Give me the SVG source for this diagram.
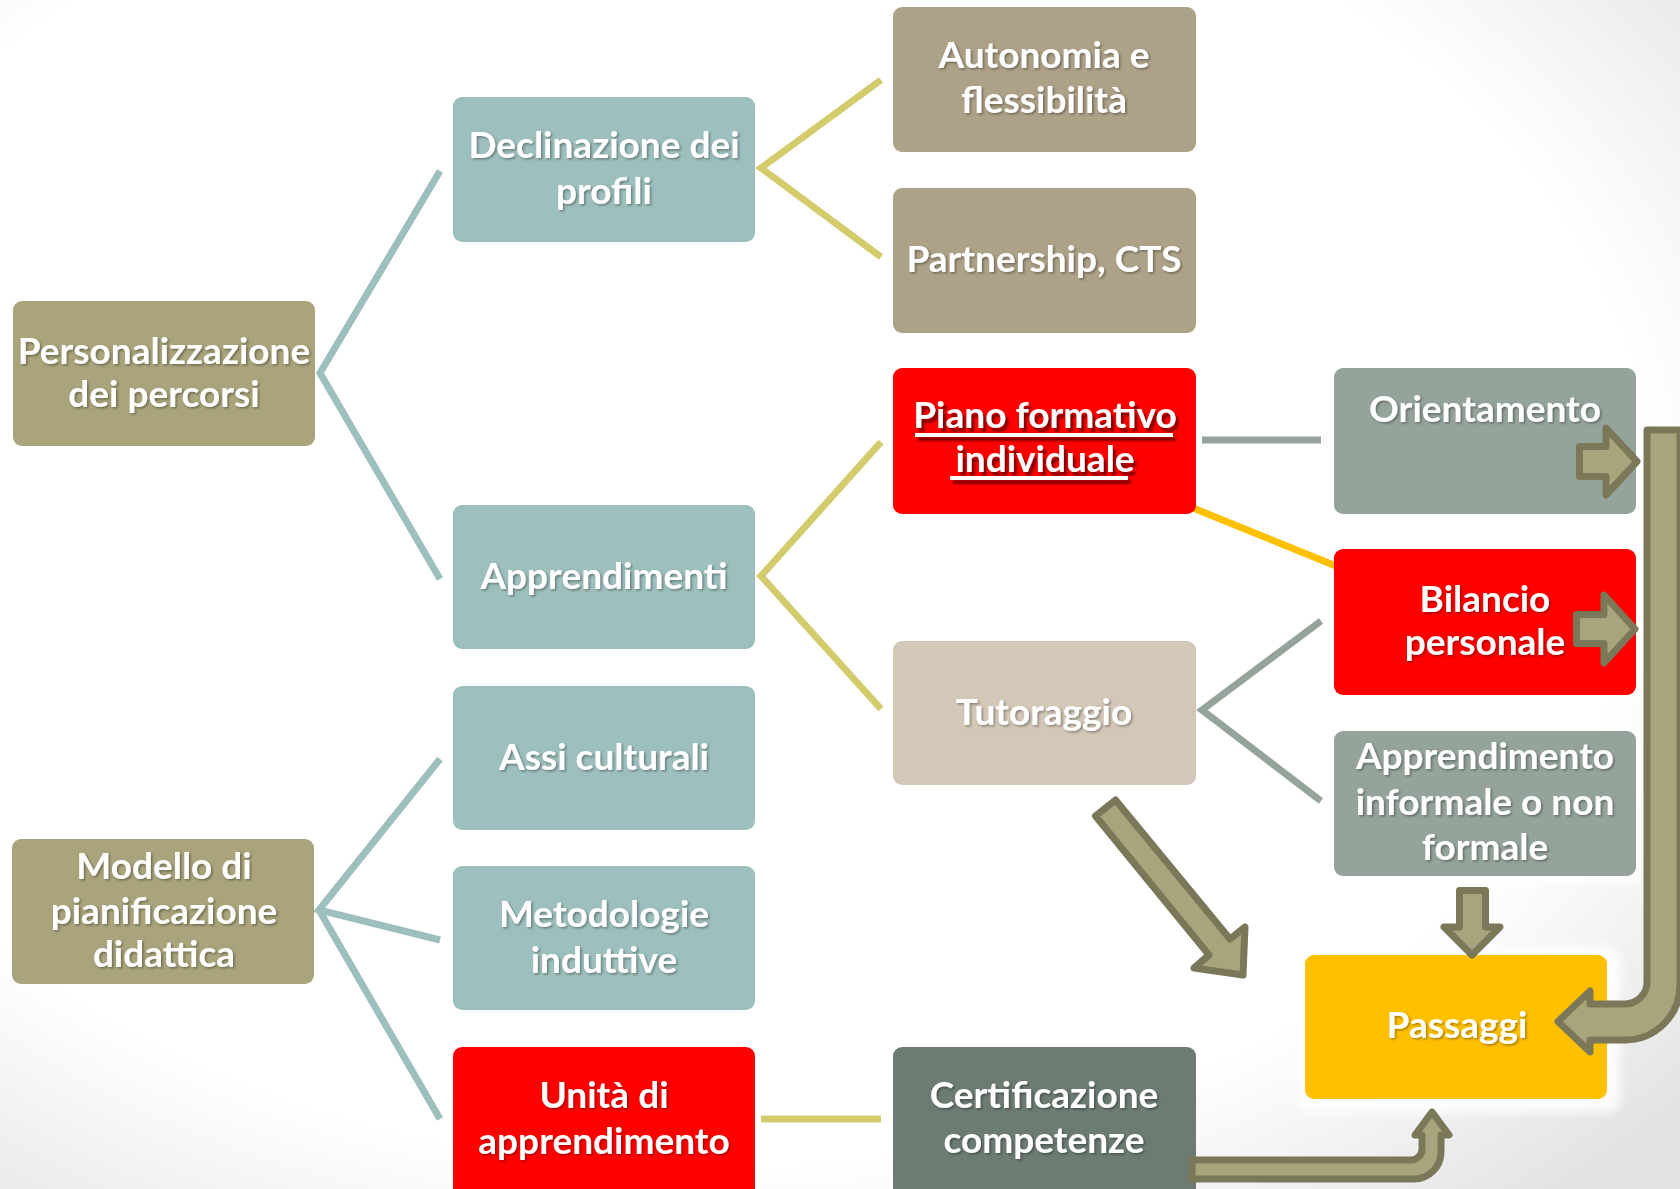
<svg xmlns="http://www.w3.org/2000/svg" width="1680" height="1189" viewBox="0 0 1680 1189">
<defs>
<radialGradient id="bg" cx="0.42" cy="0.42" r="0.78">
<stop offset="0.72" stop-color="#ffffff"/>
<stop offset="1" stop-color="#e2e2e2"/>
</radialGradient>
<filter id="ts" x="-10%" y="-30%" width="120%" height="160%">
<feDropShadow dx="1.5" dy="1.5" stdDeviation="1" flood-color="#000" flood-opacity="0.35"/>
</filter>
<filter id="ts2" x="-10%" y="-30%" width="120%" height="160%">
<feDropShadow dx="3" dy="4" stdDeviation="1.2" flood-color="#600" flood-opacity="0.8"/>
</filter>
<filter id="glow" x="-20%" y="-20%" width="140%" height="140%">
<feGaussianBlur stdDeviation="5"/>
</filter>
</defs>
<style>
.b text{fill:#fff;font-family:Lato,"Liberation Sans",sans-serif;font-weight:bold;font-size:37px;text-anchor:middle}
.t{filter:url(#ts)}
.olive{fill:#A9A47B}
.teal{fill:#9DBFBD}
.tan{fill:#ADA187}
.red{fill:#FF0000}
.gray{fill:#95A49B}
.beige{fill:#D3C7B7}
.dark{fill:#6C7C73}
.gold{fill:#FFC000}
.lt{fill:none;stroke:#9DBFBD;stroke-width:7}
.ly{fill:none;stroke:#D3CC6D;stroke-width:7}
.lg{fill:none;stroke:#95A49B;stroke-width:7}
.lo{fill:none;stroke:#FFC000;stroke-width:7}
.ba{fill:#A8A57C;stroke:#7B7859;stroke-width:7;stroke-linejoin:round}
</style>
<rect width="1680" height="1189" fill="url(#bg)"/>

<g id="connectors">
<polyline class="lt" points="440,171 320,373 440,579"/>
<polyline class="ly" points="881,80 761,168 881,257"/>
<polyline class="ly" points="881,442 761,576 881,709"/>
<line class="lg" x1="1202" y1="440" x2="1321" y2="440"/>
<line class="lo" x1="1193" y1="508" x2="1336" y2="566"/>
<polyline class="lg" points="1321,621 1202,710 1321,801"/>
<polyline class="lt" points="440,759 319,910 440,940"/>
<polyline class="lt" points="319,910 440,1119"/>
<line class="ly" x1="761" y1="1119" x2="881" y2="1119"/>
</g>

<g id="n-personalizzazione" class="b"><rect class="olive" x="13" y="301" width="302" height="145" rx="9"/><text class="t" x="164" y="364">Personalizzazione</text><text class="t" x="164" y="407">dei percorsi</text></g>
<g id="n-declinazione" class="b"><rect class="teal" x="453" y="97" width="302" height="145" rx="9"/><text class="t" x="604" y="158">Declinazione dei</text><text class="t" x="604" y="204">profili</text></g>
<g id="n-autonomia" class="b"><rect class="tan" x="893" y="7" width="303" height="145" rx="9"/><text class="t" x="1044" y="68">Autonomia e</text><text class="t" x="1044" y="113">flessibilità</text></g>
<g id="n-partnership" class="b"><rect class="tan" x="893" y="188" width="303" height="145" rx="9"/><text class="t" x="1044" y="272">Partnership, CTS</text></g>
<g id="n-piano" class="b"><rect class="red" x="893" y="368" width="303" height="146" rx="9"/>
<g filter="url(#ts2)"><text x="1045" y="428">Piano formativo</text><text x="1045" y="472">individuale</text><rect x="915" y="433" width="258" height="4" fill="#fff"/><rect x="950" y="476" width="178" height="4" fill="#fff"/></g></g>
<g id="n-orientamento" class="b"><rect class="gray" x="1334" y="368" width="302" height="146" rx="9"/><text class="t" x="1485" y="422">Orientamento</text></g>
<g id="n-bilancio" class="b"><rect class="red" x="1334" y="549" width="302" height="146" rx="9"/><text class="t" x="1485" y="612">Bilancio</text><text class="t" x="1485" y="655">personale</text></g>
<g id="n-apprendimenti" class="b"><rect class="teal" x="453" y="505" width="302" height="144" rx="9"/><text class="t" x="604" y="589">Apprendimenti</text></g>
<g id="n-tutoraggio" class="b"><rect class="beige" x="893" y="641" width="303" height="144" rx="9"/><text class="t" x="1044" y="725">Tutoraggio</text></g>
<g id="n-assi" class="b"><rect class="teal" x="453" y="686" width="302" height="144" rx="9"/><text class="t" x="604" y="770">Assi culturali</text></g>
<g id="n-informale" class="b"><rect x="1328" y="725" width="314" height="158" rx="12" fill="#fff" opacity="0.8" filter="url(#glow)"/><rect class="gray" x="1334" y="731" width="302" height="145" rx="9"/><text class="t" x="1485" y="769">Apprendimento</text><text class="t" x="1485" y="815">informale o non</text><text class="t" x="1485" y="860">formale</text></g>
<g id="n-modello" class="b"><rect class="olive" x="12" y="839" width="302" height="145" rx="9"/><text class="t" x="164" y="879">Modello di</text><text class="t" x="164" y="924">pianificazione</text><text class="t" x="164" y="967">didattica</text></g>
<g id="n-metodologie" class="b"><rect class="teal" x="453" y="866" width="302" height="144" rx="9"/><text class="t" x="604" y="927">Metodologie</text><text class="t" x="604" y="973">induttive</text></g>
<g id="n-unita" class="b"><rect class="red" x="453" y="1047" width="302" height="160" rx="9"/><text class="t" x="604" y="1108">Unità di</text><text class="t" x="604" y="1154">apprendimento</text></g>
<g id="n-certificazione" class="b"><rect class="dark" x="893" y="1047" width="303" height="160" rx="9"/><text class="t" x="1044" y="1108">Certificazione</text><text class="t" x="1044" y="1153">competenze</text></g>
<g id="n-passaggi" class="b"><rect x="1298" y="946" width="322" height="166" rx="14" fill="#fff" opacity="0.9" filter="url(#glow)"/><rect class="gold" x="1305" y="955" width="302" height="144" rx="9"/><text class="t" x="1457" y="1038">Passaggi</text></g>

<g id="block-arrows">
<polygon class="ba" points="1579.5,446.5 1606,446.5 1606,428 1637,461.5 1606,495 1606,476.5 1579.5,476.5"/>
<polygon class="ba" points="1576.5,614.5 1604,614.5 1604,595 1635,629 1604,663 1604,643.5 1576.5,643.5"/>
<path class="ba" stroke-width="8" d="M1647,430 L1680,430 L1680,985 A55 55 0 0 1 1625,1040 L1590,1040 L1590,1052 L1558,1021.5 L1590,991 L1590,1004 L1625,1004 A22 22 0 0 0 1647,982 Z"/>
<polygon class="ba" stroke-width="6" points="1095.5,816 1115.5,800 1230,939 1245,927 1243,975 1194,968 1209,955"/>
<polygon class="ba" points="1459.5,890.5 1485.5,890.5 1485.5,927 1500,927 1472,955 1444,927 1459.5,927"/>
<path class="ba" stroke-width="6" d="M1192,1160 L1411,1160 A11 11 0 0 0 1422,1149 L1422,1135 L1415,1135 L1432,1112 L1449,1135 L1441,1135 L1441,1152 A27 27 0 0 1 1414,1179 L1192,1179 Z"/>
</g>
</svg>
